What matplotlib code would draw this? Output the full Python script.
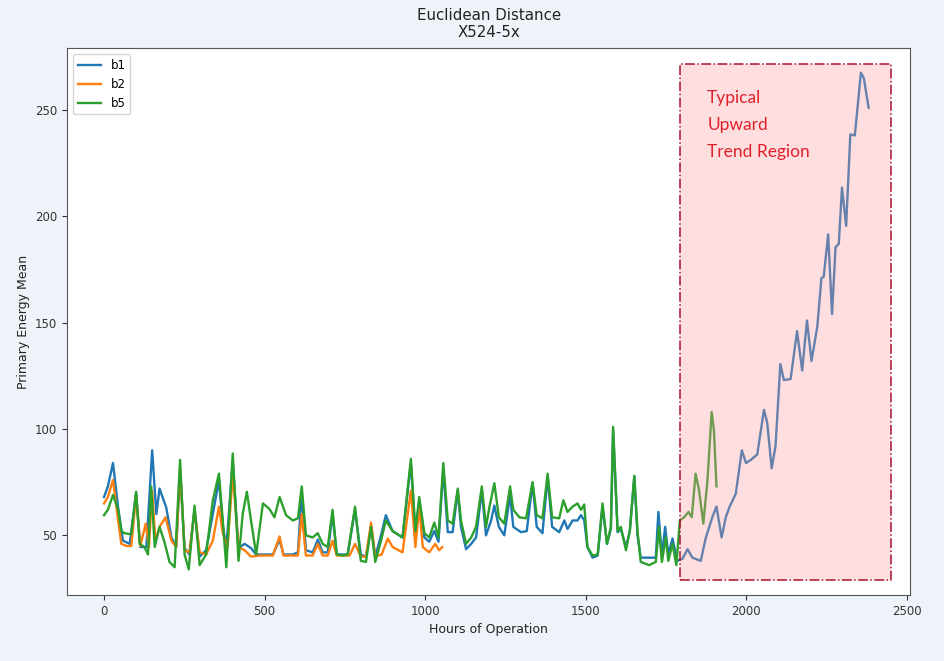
import matplotlib
matplotlib.use("Agg")
import matplotlib.pyplot as plt
from matplotlib.patches import Rectangle

# hours / values, per series
b1_hours = [0, 12, 28, 44, 59, 80, 100, 113, 132, 150, 163, 173, 194, 210, 225, 237, 251, 266,
            282, 298, 318, 339, 358, 370, 381, 401, 419, 438, 458, 474, 495, 526, 547, 559,
            588, 604, 616, 629, 650, 666, 681, 697, 712, 725, 744, 759, 782, 800, 816, 832,
            845, 863, 878, 899, 930, 956, 970, 982, 998, 1013, 1029, 1042, 1057, 1071, 1086,
            1102, 1112, 1128, 1144, 1159, 1177, 1190, 1206, 1216, 1230, 1247, 1265, 1275,
            1299, 1317, 1335, 1348, 1366, 1382, 1396, 1418, 1434, 1444, 1460, 1475, 1486,
            1496, 1506, 1522, 1538, 1553, 1567, 1579, 1586, 1600, 1610, 1626, 1638, 1652,
            1662, 1672, 1698, 1719, 1727, 1738, 1748, 1758, 1771, 1786, 1802, 1818, 1833,
            1859, 1875, 1895, 1908, 1924, 1937, 1949, 1968, 1987, 2000, 2015, 2035, 2056,
            2066, 2080, 2092, 2107, 2118, 2139, 2159, 2175, 2190, 2204, 2222, 2235, 2242,
            2256, 2268, 2279, 2289, 2299, 2312, 2325, 2339, 2358, 2367, 2382]
b1_values = [68, 73, 84, 63, 47.5, 46, 70, 44.5, 44.5, 90, 60, 72, 63, 49, 44.5, 80, 44, 41,
             62, 40, 43, 60, 76, 55, 44, 85, 44, 46, 44, 41, 41, 41, 48, 41,
             41, 42, 70, 43, 42, 48, 42, 42, 60, 41, 41, 41, 62, 41, 40, 54,
             40, 50, 59.5, 52, 49, 84, 51, 66, 49, 47, 52, 47, 81, 51.5, 51.5,
             71, 54, 43.5, 46, 49, 71, 50, 57, 64, 54, 50, 69, 54,
             51.5, 52, 74.5, 54, 51, 77.5, 54, 51.5, 57, 53, 57, 57, 59.5,
             57, 44.5, 39.5, 40.5, 63.5, 46, 53, 99.5, 51.5, 53, 44.5, 52, 77.5,
             50, 39.5, 39.5, 39.5, 61, 40, 54, 41, 48.5, 38, 39, 43.5, 39.5,
             38, 49, 58.5, 63.5, 49, 58.5, 63.5, 69.5, 90, 84, 85.5, 88, 109,
             103, 81.5, 92, 130.5, 123, 123.5, 146, 127.5, 151, 132, 148, 171, 171.5,
             191.5, 154, 185.5, 187, 213.5, 195.5, 238.5, 238, 267.5, 265, 251]

b2_hours = [0, 12, 28, 44, 54, 70, 85, 100, 113, 130, 140, 150, 160, 173, 192, 210, 225, 237,
            251, 266, 282, 298, 318, 339, 358, 370, 385, 401, 419, 438, 458, 484, 526, 547,
            559, 604, 616, 629, 650, 666, 681, 697, 712, 725, 765, 782, 800, 816, 832, 845,
            865, 884, 899, 930, 956, 970, 982, 993, 1013, 1032, 1044, 1054]
b2_values = [65, 68, 76, 57, 46, 45, 45, 69, 45, 55.5, 44.5, 71, 47.5, 54, 58.5, 47.5, 44.5, 82,
             43, 42, 62, 42, 41, 47.5, 63.5, 51, 44.5, 79, 44.5, 43, 40, 40.5, 40.5, 49.5,
             40.5, 40.5, 60, 40.5, 40.5, 46, 40.5, 40.5, 47.5, 40.5, 40.5, 46, 40, 40, 56, 40,
             41, 48.5, 44.5, 42, 71, 44.5, 63.5, 44.5, 42, 46, 43, 44.5]

b5_hours = [0, 12, 28, 44, 54, 64, 85, 100, 111, 126, 137, 147, 158, 173, 188, 204, 220, 237,
            251, 264, 282, 298, 318, 339, 358, 370, 381, 401, 419, 432, 445, 458, 474, 495,
            515, 531, 547, 567, 588, 604, 616, 629, 650, 666, 681, 697, 712, 725, 744, 759,
            782, 800, 816, 832, 845, 863, 878, 899, 930, 956, 970, 982, 998, 1013, 1029,
            1042, 1057, 1071, 1086, 1102, 1112, 1128, 1144, 1159, 1177, 1190, 1201, 1216,
            1230, 1247, 1265, 1275, 1294, 1315, 1335, 1348, 1366, 1382, 1396, 1418, 1431,
            1444, 1460, 1475, 1486, 1496, 1506, 1522, 1538, 1553, 1567, 1579, 1586, 1600,
            1610, 1626, 1638, 1652, 1662, 1672, 1698, 1719, 1729, 1738, 1750, 1758, 1771,
            1783, 1794, 1807, 1821, 1831, 1843, 1854, 1867, 1880, 1893, 1900, 1908]
b5_values = [59.5, 62, 69, 62, 52, 51, 50.5, 70.5, 46, 44.5, 41, 73, 44.5, 54, 47, 37.5, 35, 85.5,
             41, 34, 64, 36, 41, 66.5, 79, 57, 35, 88.5, 38, 60, 70.5, 57, 41, 65,
             62.5, 58.5, 68, 59.5, 57, 58, 73, 50, 49, 51, 46, 44.5, 62, 41, 40.5, 41,
             63.5, 38, 37.5, 54, 37.5, 47.5, 57, 52, 49, 86, 52, 68, 51, 49, 56,
             49, 84, 57, 55.5, 72, 57, 46, 49, 54, 73, 54, 63.5, 74.5,
             58.5, 55.5, 73, 62, 58.5, 58, 75, 59.5, 58, 79, 58.5, 58, 66.5,
             61, 63.5, 65, 62, 64.5, 44.5, 40.5, 41, 65, 46, 54, 101, 52,
             54, 43, 52, 78, 52, 37.5, 36, 37.5, 54, 37.5, 49, 38, 46,
             36, 57, 58.5, 61, 58.5, 79, 71, 55.5, 76, 108, 99.5, 73]

# highlighted region (hours, energy)
region_x = (1794, 2452)
region_y = (29.2, 271.8)
region_label = "Typical\nUpward\nTrend Region"

bg = "#eef2f9"
fig = plt.figure(figsize=(9.45, 6.61), dpi=100, facecolor=bg)
ax = fig.add_axes([0.071, 0.1, 0.892, 0.827])

ax.plot(b1_hours, b1_values, color="tab:blue", lw=1.7, label="b1")
ax.plot(b2_hours, b2_values, color="tab:orange", lw=1.7, label="b2")
ax.plot(b5_hours, b5_values, color="tab:green", lw=1.7, label="b5")

# translucent pink box laid over the lines, dash-dot outline
ax.add_patch(Rectangle((region_x[0], region_y[0]), region_x[1] - region_x[0],
                       region_y[1] - region_y[0], facecolor=(1, 0.6, 0.62, 0.32),
                       edgecolor="none", zorder=3))
ax.add_patch(Rectangle((region_x[0], region_y[0]), region_x[1] - region_x[0],
                       region_y[1] - region_y[0], fill=False, edgecolor="#a8122e",
                       ls="-.", lw=1.1, zorder=4))
ax.text(1879, 259.5, region_label, color="#e0202a", fontsize=12.5, family="Lato",
        va="top", ha="left", linespacing=1.85, zorder=5)

ax.set_xlim(-115, 2511)
ax.set_ylim(22, 279)
ax.set_xticks([0, 500, 1000, 1500, 2000, 2500])
ax.set_yticks([50, 100, 150, 200, 250])
ax.tick_params(labelsize=8.5, colors="#333333")
for s in ax.spines.values():
    s.set_color("#555555")

ax.set_title("Euclidean Distance\nX524-5x", fontsize=10.8, color="#222222", pad=8)
ax.set_xlabel("Hours of Operation", fontsize=9, color="#222222")
ax.set_ylabel("Primary Energy Mean", fontsize=9, color="#222222")
ax.legend(loc="upper left", fontsize=8.5)

fig.savefig("out.png", dpi=100, facecolor=bg)
